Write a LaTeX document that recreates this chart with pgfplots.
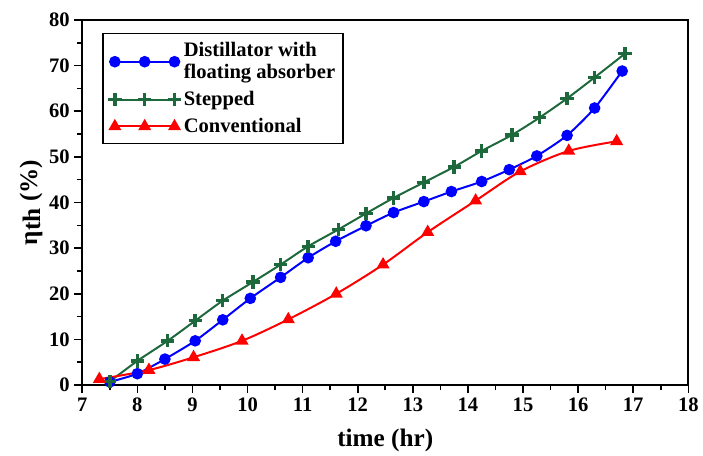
\documentclass[border=0pt]{standalone}
\usepackage{pgfplots}
\pgfplotsset{compat=1.18}
\usepackage{fontspec}
\setmainfont{Liberation Serif}
\definecolor{dgreen}{RGB}{30,105,60}
\begin{document}
\begin{tikzpicture}
\begin{axis}[
  scale only axis,
  width=456.75pt, height=275.25pt,
  xmin=7, xmax=18, ymin=0, ymax=80,
  xtick={7,...,18}, ytick={0,10,...,80},
  minor x tick num=1, minor y tick num=1,
  axis line style={line width=1.5pt},
  tick style={line width=1.2pt, black},
  major tick length=6pt, minor tick length=4pt,
  tick align=outside,
  xtick pos=bottom, ytick pos=left,
  /pgf/number format/assume math mode=true,
  ticklabel style={font=\bfseries\fontsize{15.5}{15.5}\selectfont},
  xlabel={time (hr)},
  ylabel={η\raisebox{-0.25ex}{th} (\%)},
  label style={font=\bfseries\fontsize{19}{19}\selectfont},
  xlabel style={yshift=-6pt},
  ylabel style={yshift=-2pt},
  legend cell align=left,
  legend style={at={(rel axis cs:0.033,0.965)}, anchor=north west,
    draw=black, line width=1pt, font=\bfseries\fontsize{15.5}{16.5}\selectfont,
    align=left, inner xsep=4pt, inner ysep=5pt, row sep=4pt},
  legend image code/.code={\draw[#1] plot coordinates {(0cm,0cm) (0.79cm,0cm) (1.58cm,0cm)};},
]
\addplot[blue, line width=1.5pt, smooth, tension=0.4, mark=*, mark size=3.6pt, mark options={solid,fill=blue}] coordinates {
(7.5,0.7) (8.0,2.5) (8.5,5.7) (9.05,9.7) (9.55,14.3) (10.05,19.0) (10.6,23.6) (11.1,27.9) (11.6,31.5) (12.15,34.9) (12.65,37.8) (13.2,40.2) (13.7,42.4) (14.25,44.6) (14.75,47.2) (15.25,50.2) (15.8,54.7) (16.3,60.7) (16.8,68.8)};
\addlegendentry{Distillator with\\floating absorber}
\addplot[dgreen, line width=1.5pt, smooth, tension=0.4, mark=+, mark size=5pt, mark options={solid,line width=2.6pt}] coordinates {
(7.5,0.8) (8.0,5.3) (8.55,9.7) (9.05,14.1) (9.55,18.5) (10.1,22.6) (10.6,26.4) (11.1,30.4) (11.65,34.1) (12.15,37.6) (12.65,41.0) (13.2,44.4) (13.75,47.8) (14.25,51.3) (14.8,54.8) (15.3,58.6) (15.8,62.8) (16.3,67.4) (16.85,72.6)};
\addlegendentry{Stepped}
\addplot[red, line width=1.5pt, smooth, tension=0.5, mark=triangle*, mark size=4.2pt, mark options={solid,fill=red}] coordinates {
(7.31,1.3) (8.21,3.3) (9.02,6.1) (9.9,9.7) (10.74,14.4) (11.61,20.0) (12.46,26.4) (13.27,33.5) (14.14,40.4) (14.95,46.8) (15.83,51.3) (16.7,53.4)};
\addlegendentry{Conventional}
\end{axis}
\useasboundingbox ([xshift=-62pt,yshift=-50pt]current axis.south west) rectangle ([xshift=8pt,yshift=15pt]current axis.north east);
\end{tikzpicture}
\end{document}
